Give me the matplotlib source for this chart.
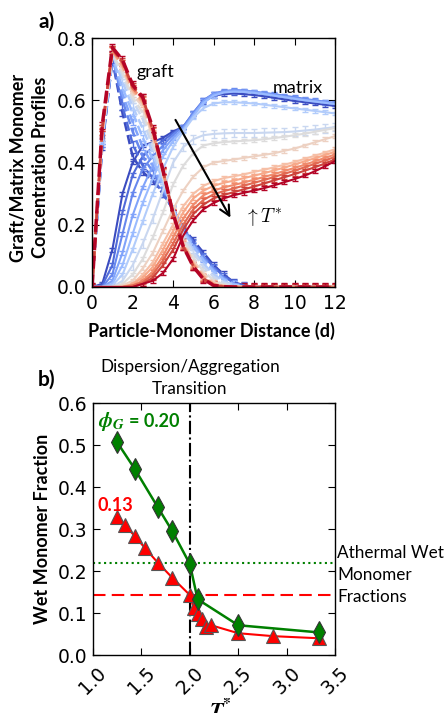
import matplotlib
matplotlib.use("Agg")
import matplotlib.pyplot as plt
from matplotlib import cm

# ---- panel a: concentration profiles, one curve per temperature (blue = low T*, red = high T*)
distance = [0.0, 0.5, 1.0, 1.5, 2.0, 2.5, 3.0, 3.5, 4.0, 4.5, 5.0, 5.5, 6.0,
            6.5, 7.0, 7.5, 8.0, 8.5, 9.0, 9.5, 10.0, 10.5, 11.0, 11.5, 12.0]

matrix_profiles = [
    [0, 0.01, 0.12, 0.30, 0.40, 0.455, 0.465, 0.48, 0.50, 0.515, 0.555, 0.595, 0.615, 0.62, 0.622, 0.62, 0.617, 0.613, 0.608, 0.603, 0.598, 0.594, 0.59, 0.586, 0.582],
    [0, 0.005, 0.07, 0.24, 0.36, 0.42, 0.45, 0.47, 0.495, 0.515, 0.56, 0.60, 0.62, 0.628, 0.63, 0.628, 0.625, 0.62, 0.615, 0.61, 0.605, 0.60, 0.596, 0.592, 0.588],
    [0, 0, 0.04, 0.17, 0.30, 0.38, 0.42, 0.455, 0.49, 0.515, 0.56, 0.60, 0.622, 0.63, 0.633, 0.632, 0.628, 0.624, 0.62, 0.615, 0.61, 0.605, 0.60, 0.596, 0.592],
    [0, 0, 0.02, 0.11, 0.23, 0.32, 0.39, 0.44, 0.48, 0.51, 0.555, 0.598, 0.62, 0.628, 0.632, 0.63, 0.627, 0.622, 0.617, 0.612, 0.607, 0.602, 0.598, 0.594, 0.59],
    [0, 0, 0.01, 0.07, 0.17, 0.27, 0.35, 0.42, 0.47, 0.505, 0.55, 0.592, 0.615, 0.625, 0.628, 0.627, 0.624, 0.62, 0.615, 0.61, 0.605, 0.60, 0.596, 0.592, 0.588],
    [0, 0, 0.005, 0.04, 0.12, 0.21, 0.30, 0.38, 0.45, 0.50, 0.545, 0.575, 0.59, 0.594, 0.594, 0.592, 0.59, 0.586, 0.582, 0.578, 0.574, 0.57, 0.566, 0.562, 0.558],
    [0, 0, 0, 0.02, 0.07, 0.14, 0.22, 0.31, 0.40, 0.45, 0.475, 0.488, 0.492, 0.494, 0.495, 0.495, 0.495, 0.496, 0.497, 0.498, 0.50, 0.503, 0.506, 0.51, 0.514],
    [0, 0, 0, 0.01, 0.04, 0.09, 0.16, 0.24, 0.33, 0.39, 0.43, 0.455, 0.462, 0.466, 0.468, 0.47, 0.472, 0.475, 0.479, 0.483, 0.488, 0.493, 0.499, 0.505, 0.511],
    [0, 0, 0, 0.005, 0.02, 0.06, 0.11, 0.18, 0.25, 0.31, 0.355, 0.385, 0.40, 0.405, 0.41, 0.415, 0.42, 0.425, 0.43, 0.438, 0.445, 0.455, 0.465, 0.475, 0.485],
    [0, 0, 0, 0, 0.01, 0.04, 0.08, 0.14, 0.20, 0.26, 0.30, 0.325, 0.34, 0.35, 0.356, 0.362, 0.37, 0.377, 0.385, 0.393, 0.402, 0.412, 0.422, 0.432, 0.443],
    [0, 0, 0, 0, 0.01, 0.03, 0.065, 0.12, 0.18, 0.24, 0.285, 0.31, 0.325, 0.335, 0.342, 0.35, 0.358, 0.366, 0.375, 0.384, 0.394, 0.404, 0.414, 0.424, 0.435],
    [0, 0, 0, 0, 0.005, 0.02, 0.05, 0.10, 0.16, 0.22, 0.265, 0.295, 0.31, 0.32, 0.328, 0.336, 0.345, 0.354, 0.363, 0.373, 0.383, 0.393, 0.404, 0.415, 0.426],
    [0, 0, 0, 0, 0.005, 0.015, 0.04, 0.085, 0.14, 0.20, 0.25, 0.28, 0.298, 0.308, 0.317, 0.326, 0.335, 0.344, 0.354, 0.364, 0.374, 0.385, 0.396, 0.407, 0.418],
    [0, 0, 0, 0, 0, 0.01, 0.03, 0.07, 0.12, 0.185, 0.235, 0.265, 0.285, 0.296, 0.305, 0.314, 0.323, 0.333, 0.343, 0.353, 0.363, 0.374, 0.385, 0.397, 0.41],
    [0, 0, 0, 0, 0, 0.01, 0.02, 0.045, 0.09, 0.165, 0.215, 0.25, 0.27, 0.285, 0.295, 0.303, 0.31, 0.318, 0.327, 0.337, 0.347, 0.358, 0.372, 0.388, 0.405],
]

graft_profiles = [
    [0, 0.45, 0.73, 0.56, 0.42, 0.37, 0.34, 0.30, 0.25, 0.19, 0.15, 0.11, 0.07, 0.04, 0.015, 0.005, 0, 0, 0, 0, 0, 0, 0, 0, 0],
    [0, 0.46, 0.73, 0.58, 0.46, 0.39, 0.35, 0.30, 0.25, 0.19, 0.145, 0.10, 0.065, 0.035, 0.013, 0.004, 0, 0, 0, 0, 0, 0, 0, 0, 0],
    [0, 0.46, 0.74, 0.60, 0.50, 0.42, 0.37, 0.31, 0.25, 0.19, 0.14, 0.095, 0.06, 0.03, 0.011, 0.003, 0, 0, 0, 0, 0, 0, 0, 0, 0],
    [0, 0.47, 0.74, 0.62, 0.53, 0.45, 0.39, 0.32, 0.25, 0.185, 0.135, 0.09, 0.055, 0.027, 0.01, 0.003, 0, 0, 0, 0, 0, 0, 0, 0, 0],
    [0, 0.47, 0.74, 0.64, 0.56, 0.48, 0.41, 0.33, 0.25, 0.18, 0.13, 0.085, 0.05, 0.024, 0.008, 0.002, 0, 0, 0, 0, 0, 0, 0, 0, 0],
    [0, 0.48, 0.75, 0.66, 0.58, 0.51, 0.43, 0.34, 0.25, 0.175, 0.12, 0.075, 0.04, 0.018, 0.006, 0.001, 0, 0, 0, 0, 0, 0, 0, 0, 0],
    [0, 0.48, 0.75, 0.68, 0.60, 0.54, 0.45, 0.35, 0.25, 0.165, 0.11, 0.065, 0.033, 0.014, 0.004, 0, 0, 0, 0, 0, 0, 0, 0, 0, 0],
    [0, 0.49, 0.75, 0.69, 0.61, 0.56, 0.47, 0.36, 0.245, 0.155, 0.095, 0.05, 0.022, 0.008, 0.002, 0, 0, 0, 0, 0, 0, 0, 0, 0, 0],
    [0, 0.49, 0.76, 0.70, 0.62, 0.58, 0.48, 0.365, 0.24, 0.145, 0.085, 0.042, 0.016, 0.005, 0.001, 0, 0, 0, 0, 0, 0, 0, 0, 0, 0],
    [0, 0.50, 0.76, 0.71, 0.63, 0.59, 0.49, 0.37, 0.24, 0.14, 0.078, 0.036, 0.012, 0.003, 0, 0, 0, 0, 0, 0, 0, 0, 0, 0, 0],
    [0, 0.50, 0.76, 0.71, 0.635, 0.595, 0.495, 0.37, 0.24, 0.137, 0.074, 0.033, 0.01, 0.002, 0, 0, 0, 0, 0, 0, 0, 0, 0, 0, 0],
    [0, 0.50, 0.76, 0.72, 0.64, 0.60, 0.50, 0.372, 0.238, 0.134, 0.07, 0.03, 0.008, 0.002, 0, 0, 0, 0, 0, 0, 0, 0, 0, 0, 0],
    [0, 0.51, 0.765, 0.72, 0.64, 0.605, 0.505, 0.373, 0.237, 0.132, 0.068, 0.028, 0.007, 0.001, 0, 0, 0, 0, 0, 0, 0, 0, 0, 0, 0],
    [0, 0.51, 0.765, 0.725, 0.645, 0.61, 0.505, 0.374, 0.236, 0.13, 0.066, 0.026, 0.006, 0.001, 0, 0, 0, 0, 0, 0, 0, 0, 0, 0, 0],
    [0, 0.52, 0.77, 0.73, 0.65, 0.61, 0.51, 0.375, 0.235, 0.13, 0.065, 0.025, 0.005, 0.001, 0, 0, 0, 0, 0, 0, 0, 0, 0, 0, 0],
]

matrix_err = [0.006, 0.006, 0.006, 0.006, 0.006, 0.006, 0.014, 0.006, 0.006, 0.006, 0.006, 0.006, 0.006, 0.006, 0.006]
graft_err = [0.01, 0.01, 0.01, 0.01, 0.01, 0.01, 0.01, 0.01, 0.01, 0.01, 0.01, 0.01, 0.01, 0.01, 0.012]

# ---- panel b: wet monomer fraction vs T*
t_020 = [1.25, 1.43, 1.67, 1.82, 2.0, 2.08, 2.5, 3.33]
wet_020 = [0.507, 0.444, 0.352, 0.295, 0.217, 0.133, 0.071, 0.054]
t_013 = [1.25, 1.33, 1.43, 1.54, 1.67, 1.82, 2.0, 2.04, 2.08, 2.13, 2.17, 2.22, 2.5, 2.86, 3.33]
wet_013 = [0.33, 0.309, 0.284, 0.254, 0.22, 0.184, 0.143, 0.111, 0.098, 0.085, 0.068, 0.071, 0.052, 0.045, 0.040]
athermal_020 = 0.22
athermal_013 = 0.143
transition_t = 2.0

LABEL_FONT = "Lato"
TICK_SIZE = 13.5
LABEL_SIZE = 13


def style_axis(ax):
    """classic look: inward ticks on every side"""
    ax.tick_params(direction="in", length=5, width=0.8, top=True, right=True, labelsize=TICK_SIZE)
    ax.tick_params(axis="y", pad=4)
    for s in ax.spines.values():
        s.set_linewidth(1.0)


def draw_profiles(ax):
    n = len(matrix_profiles)
    colors = [cm.coolwarm(i / (n - 1)) for i in range(n)]
    for i in range(n):
        ax.errorbar(distance, matrix_profiles[i], yerr=matrix_err[i], color=colors[i],
                    lw=1.5, elinewidth=1, capsize=2.5, ls="-")
        ax.errorbar(distance, graft_profiles[i], yerr=graft_err[i], color=colors[i],
                    lw=2.5 if i == n - 1 else 1.8, elinewidth=1, capsize=2.5, ls="--")

    ax.set_xlim(0, 12)
    ax.set_ylim(0, 0.8)
    ax.set_xticks([0, 2, 4, 6, 8, 10, 12])
    ax.set_yticks([0.0, 0.2, 0.4, 0.6, 0.8])
    ax.set_yticklabels(["0.0", "0.2", "0.4", "0.6", "0.8"])
    style_axis(ax)
    ax.tick_params(axis="x", pad=5)

    ax.text(2.2, 0.69, "graft", family=LABEL_FONT, fontsize=LABEL_SIZE, va="center")
    ax.text(8.9, 0.64, "matrix", family=LABEL_FONT, fontsize=LABEL_SIZE, va="center")
    ax.annotate("", xy=(6.9, 0.215), xytext=(4.05, 0.545),
                arrowprops=dict(arrowstyle="->", lw=1.5, color="black", mutation_scale=18))
    ax.text(7.5, 0.225, r"$\uparrow T^{*}$", fontsize=14, math_fontfamily="cm", va="center")

    ax.set_xlabel("Particle-Monomer Distance (d)", family=LABEL_FONT, fontweight="bold",
                  fontsize=LABEL_SIZE)
    ax.xaxis.set_label_coords(0.49, -0.14)
    ax.set_ylabel("Graft/Matrix Monomer\nConcentration Profiles", family=LABEL_FONT,
                  fontweight="bold", fontsize=LABEL_SIZE, linespacing=1.35)
    ax.yaxis.set_label_coords(-0.177, 0.48)


def draw_wet_fraction(ax):
    ax.axhline(athermal_020, color="green", ls=":", lw=1.5)
    ax.axhline(athermal_013, color="red", ls="--", lw=1.5, dashes=(6, 3))
    ax.axvline(transition_t, color="black", ls="-.", lw=1.5)

    ax.plot(t_013, wet_013, color="red", lw=1.5, marker="^", ms=10,
            markerfacecolor="red", markeredgecolor="#555555", markeredgewidth=0.8)
    ax.plot(t_020, wet_020, color="green", lw=1.8, marker="d", ms=11,
            markerfacecolor="green", markeredgecolor="#333333", markeredgewidth=0.8)

    ax.set_xlim(1.0, 3.5)
    ax.set_ylim(0, 0.6)
    ax.set_xticks([1.0, 1.5, 2.0, 2.5, 3.0, 3.5])
    ax.set_yticks([0.0, 0.1, 0.2, 0.3, 0.4, 0.5, 0.6])
    style_axis(ax)
    ax.tick_params(axis="x", pad=6)
    plt.setp(ax.get_xticklabels(), rotation=45)

    ax.text(1.05, 0.557, r"$\mathbfit{\phi}_{\mathbfit{G}}$", color="green", fontsize=15,
            math_fontfamily="stix", va="center")
    ax.text(1.37, 0.557, "= 0.20", color="green", fontsize=LABEL_SIZE, family=LABEL_FONT,
            fontweight="bold", va="center")
    ax.text(1.05, 0.357, "0.13", color="red", fontsize=LABEL_SIZE, family=LABEL_FONT,
            fontweight="bold", va="center")
    ax.text(2.0, 0.66, "Dispersion/Aggregation\nTransition", family=LABEL_FONT, fontsize=12.3,
            ha="center", va="center", linespacing=1.45)
    ax.text(3.52, 0.19, "Athermal Wet\nMonomer\nFractions", family=LABEL_FONT, fontsize=12.3,
            ha="left", va="center", linespacing=1.45)

    ax.set_xlabel(r"$\mathbfit{T}^{\mathbf{*}}$", fontsize=16, math_fontfamily="stix")
    ax.xaxis.set_label_coords(0.525, -0.175)
    ax.set_ylabel("Wet Monomer Fraction", family=LABEL_FONT, fontweight="bold", fontsize=LABEL_SIZE)
    ax.yaxis.set_label_coords(-0.174, 0.5)


if __name__ == "__main__":
    fig = plt.figure(figsize=(4.45, 7.13), dpi=100)
    ax_a = fig.add_axes([0.207, 0.5975, 0.546, 0.349])
    ax_b = fig.add_axes([0.209, 0.0813, 0.544, 0.353])

    draw_profiles(ax_a)
    draw_wet_fraction(ax_b)

    fig.text(47 / 445, 1 - 22 / 713, "a)", family=LABEL_FONT, fontweight="bold", fontsize=15,
             ha="center", va="center")
    fig.text(47 / 445, 1 - 380 / 713, "b)", family=LABEL_FONT, fontweight="bold", fontsize=15,
             ha="center", va="center")

    fig.savefig("out.png", dpi=100)
